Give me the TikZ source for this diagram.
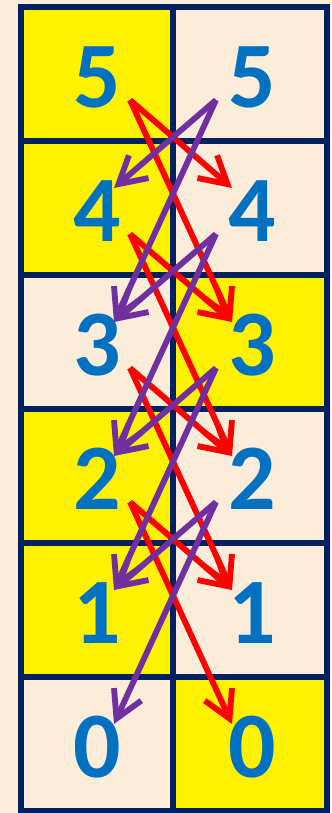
\documentclass[tikz,border=0pt]{standalone}
\usepackage{fontspec}
\setmainfont{Carlito}
\usepackage{tikz}
\usetikzlibrary{arrows.meta, positioning}

\definecolor{cream}{HTML}{FBEDDA}
\definecolor{navy}{HTML}{002060}
\definecolor{digitblue}{HTML}{0070C0}
\definecolor{movepurple}{HTML}{7030A0}

\begin{document}
\begin{tikzpicture}[
    x=0.03cm, y=-0.03cm,
    gridline/.style={draw=navy, line width=4.3pt},
    digit/.style={text=digitblue, inner sep=0pt, font=\fontsize{80}{80}\selectfont\bfseries},
    redmove/.style={red, line width=5pt, -{Straight Barb[length=0.8cm, width=0.9cm]}},
    purplemove/.style={movepurple, line width=5pt, -{Straight Barb[length=0.8cm, width=0.9cm]}},
]

\useasboundingbox (0,0) rectangle (331,813);
\fill[cream] (0,0) rectangle (331,813);

\foreach \n/\lf/\rf in {5/yellow/cream, 4/yellow/cream, 3/cream/yellow, 2/yellow/cream, 1/yellow/cream, 0/cream/yellow} {
    \pgfmathsetmacro\t{7+(5-\n)*134}
    \fill[\lf] (21,\t) rectangle (173,\t+134);
    \fill[\rf] (173,\t) rectangle (327,\t+134);
    \node[digit] (L\n) at (97,\t+70) {\n};
    \node[digit] (R\n) at (252,\t+70) {\n};
    \coordinate (Lout\n) at (130,\t+93);
    \coordinate (Lin\n) at (114,\t+47);
    \coordinate (Rout\n) at (216,\t+93);
    \coordinate (Rin\n) at (232,\t+47);
}

\foreach \k in {1,...,5}
    \draw[gridline] (21,{7+\k*134}) -- (327,{7+\k*134});
\draw[gridline] (173,7) -- (173,811);
\draw[gridline] (21,7) rectangle (327,811);

\foreach \n/\a/\b in {5/4/3, 4/3/2, 3/2/1, 2/1/0} {
    \draw[redmove] (Lout\n) -- (Rin\a);
    \draw[redmove] (Lout\n) -- (Rin\b);
}
\foreach \n/\a/\b in {5/4/3, 4/3/2, 3/2/1, 2/1/0} {
    \draw[purplemove] (Rout\n) -- (Lin\a);
    \draw[purplemove] (Rout\n) -- (Lin\b);
}

\end{tikzpicture}
\end{document}
